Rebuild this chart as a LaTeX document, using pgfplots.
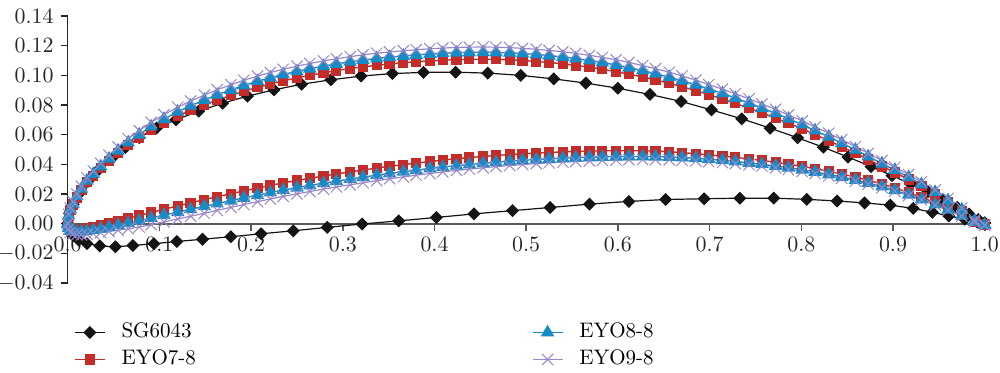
\documentclass[border=0pt]{standalone}
\usepackage{pgfplots}
\usepackage{pgfplotstable}
\pgfplotsset{compat=1.18}
\definecolor{cblk}{HTML}{141414}
\definecolor{cred}{HTML}{C32C28}
\definecolor{cblue}{HTML}{168BC6}
\definecolor{cpur}{HTML}{9B87C8}
\definecolor{caxis}{HTML}{5A5A5A}

\pgfplotstableread[row sep=\\]{
x y \\
1.0 0.0005 \\
0.993 0.0028 \\
0.983 0.0065 \\
0.970 0.0110 \\
0.955 0.0160 \\
0.938 0.0213 \\
0.919 0.0268 \\
0.899 0.0324 \\
0.876 0.0385 \\
0.851 0.0449 \\
0.824 0.0515 \\
0.796 0.0579 \\
0.766 0.0644 \\
0.735 0.0707 \\
0.702 0.0767 \\
0.669 0.0824 \\
0.635 0.0871 \\
0.600 0.0913 \\
0.565 0.0948 \\
0.530 0.0976 \\
0.494 0.1000 \\
0.458 0.1015 \\
0.423 0.1021 \\
0.388 0.1020 \\
0.354 0.1012 \\
0.320 0.0995 \\
0.287 0.0970 \\
0.255 0.0940 \\
0.225 0.0902 \\
0.196 0.0860 \\
0.169 0.0812 \\
0.143 0.0759 \\
0.118 0.0700 \\
0.097 0.0645 \\
0.078 0.0580 \\
0.063 0.0515 \\
0.048 0.0440 \\
0.034 0.0365 \\
0.022 0.0285 \\
0.013 0.0205 \\
0.006 0.0130 \\
0.002 0.0070 \\
0 0 \\
}\sgup

\pgfplotstableread[row sep=\\]{
x y \\
0 0 \\
0.002 -0.0045 \\
0.006 -0.0080 \\
0.012 -0.0110 \\
0.021 -0.0134 \\
0.035 -0.0150 \\
0.052 -0.0156 \\
0.071 -0.0147 \\
0.094 -0.0135 \\
0.119 -0.0120 \\
0.147 -0.0105 \\
0.178 -0.0088 \\
0.211 -0.0068 \\
0.246 -0.0048 \\
0.283 -0.0025 \\
0.321 -0.0002 \\
0.361 0.0019 \\
0.402 0.0042 \\
0.443 0.0066 \\
0.485 0.0088 \\
0.526 0.0109 \\
0.569 0.0132 \\
0.612 0.0150 \\
0.652 0.0163 \\
0.694 0.0168 \\
0.733 0.0172 \\
0.770 0.0172 \\
0.806 0.0164 \\
0.839 0.0153 \\
0.869 0.0140 \\
0.897 0.0125 \\
0.922 0.0103 \\
0.943 0.0077 \\
0.961 0.0052 \\
0.978 0.0030 \\
0.992 0.0011 \\
1.0 0.0005 \\
}\sglo

\pgfplotstableread[row sep=\\]{
x r b p \\
0 0 0 0 \\
0.001 0.0053 0.0055 0.0063 \\
0.003 0.0091 0.0095 0.0105 \\
0.006 0.0129 0.0135 0.0147 \\
0.010 0.0177 0.0185 0.0200 \\
0.015 0.0226 0.0235 0.0252 \\
0.021 0.0280 0.0290 0.0308 \\
0.028 0.0324 0.0335 0.0355 \\
0.036 0.0373 0.0385 0.0407 \\
0.045 0.0424 0.0438 0.0462 \\
0.055 0.0476 0.0492 0.0517 \\
0.066 0.0529 0.0547 0.0573 \\
0.078 0.0580 0.0600 0.0627 \\
0.091 0.0632 0.0655 0.0684 \\
0.105 0.0679 0.0705 0.0735 \\
0.120 0.0726 0.0754 0.0785 \\
0.134 0.0765 0.0795 0.0827 \\
0.149 0.0801 0.0834 0.0867 \\
0.163 0.0834 0.0869 0.0903 \\
0.178 0.0865 0.0902 0.0936 \\
0.192 0.0893 0.0932 0.0967 \\
0.207 0.0919 0.0960 0.0995 \\
0.221 0.0942 0.0984 0.1019 \\
0.235 0.0963 0.1006 0.1041 \\
0.250 0.0983 0.1027 0.1062 \\
0.264 0.1000 0.1045 0.1080 \\
0.279 0.1017 0.1062 0.1097 \\
0.293 0.1032 0.1077 0.1112 \\
0.308 0.1046 0.1091 0.1126 \\
0.322 0.1057 0.1103 0.1138 \\
0.337 0.1068 0.1114 0.1149 \\
0.351 0.1077 0.1123 0.1158 \\
0.366 0.1085 0.1131 0.1166 \\
0.380 0.1092 0.1138 0.1173 \\
0.395 0.1097 0.1144 0.1179 \\
0.409 0.1102 0.1149 0.1184 \\
0.424 0.1106 0.1153 0.1188 \\
0.438 0.1108 0.1155 0.1190 \\
0.453 0.1109 0.1156 0.1191 \\
0.467 0.1108 0.1155 0.1190 \\
0.482 0.1105 0.1152 0.1187 \\
0.496 0.1100 0.1147 0.1182 \\
0.511 0.1094 0.1141 0.1176 \\
0.525 0.1086 0.1133 0.1168 \\
0.540 0.1078 0.1124 0.1159 \\
0.554 0.1067 0.1113 0.1148 \\
0.569 0.1055 0.1100 0.1135 \\
0.583 0.1041 0.1086 0.1121 \\
0.598 0.1025 0.1070 0.1105 \\
0.612 0.1008 0.1052 0.1087 \\
0.627 0.0989 0.1032 0.1066 \\
0.641 0.0969 0.1011 0.1045 \\
0.656 0.0947 0.0988 0.1021 \\
0.670 0.0923 0.0963 0.0996 \\
0.685 0.0897 0.0936 0.0968 \\
0.699 0.0870 0.0908 0.0938 \\
0.714 0.0841 0.0878 0.0907 \\
0.728 0.0811 0.0847 0.0876 \\
0.743 0.0779 0.0814 0.0842 \\
0.757 0.0746 0.0780 0.0807 \\
0.772 0.0712 0.0744 0.0771 \\
0.786 0.0677 0.0707 0.0733 \\
0.801 0.0640 0.0668 0.0693 \\
0.815 0.0601 0.0628 0.0652 \\
0.830 0.0560 0.0586 0.0610 \\
0.844 0.0518 0.0543 0.0566 \\
0.859 0.0475 0.0498 0.0520 \\
0.873 0.0432 0.0453 0.0474 \\
0.888 0.0386 0.0405 0.0425 \\
0.902 0.0345 0.0362 0.0381 \\
0.917 0.0298 0.0313 0.0331 \\
0.931 0.0252 0.0265 0.0282 \\
0.946 0.0200 0.0212 0.0227 \\
0.960 0.0147 0.0157 0.0170 \\
0.975 0.0088 0.0095 0.0105 \\
0.989 0.0016 0.0020 0.0025 \\
1.000 -0.0005 -0.0010 -0.0010 \\
}\eyoup

\pgfplotstableread[row sep=\\]{
x r b p \\
0 0 0 0 \\
0.001 -0.0025 -0.0030 -0.0035 \\
0.003 -0.0040 -0.0047 -0.0058 \\
0.006 -0.0046 -0.0055 -0.0070 \\
0.010 -0.0045 -0.0057 -0.0075 \\
0.015 -0.0040 -0.0055 -0.0075 \\
0.021 -0.0032 -0.0050 -0.0072 \\
0.028 -0.0022 -0.0043 -0.0067 \\
0.036 -0.0010 -0.0034 -0.0061 \\
0.045 0.0005 -0.0023 -0.0053 \\
0.055 0.0020 -0.0010 -0.0044 \\
0.066 0.0036 0.0004 -0.0034 \\
0.078 0.0055 0.0020 -0.0022 \\
0.091 0.0075 0.0038 -0.0007 \\
0.105 0.0097 0.0058 0.0012 \\
0.120 0.0120 0.0078 0.0032 \\
0.134 0.0141 0.0097 0.0050 \\
0.149 0.0162 0.0117 0.0070 \\
0.163 0.0182 0.0136 0.0090 \\
0.178 0.0202 0.0155 0.0110 \\
0.192 0.0221 0.0174 0.0129 \\
0.207 0.0240 0.0192 0.0148 \\
0.221 0.0258 0.0210 0.0167 \\
0.235 0.0275 0.0227 0.0184 \\
0.250 0.0291 0.0243 0.0201 \\
0.264 0.0306 0.0258 0.0217 \\
0.279 0.0321 0.0273 0.0233 \\
0.293 0.0335 0.0287 0.0248 \\
0.308 0.0349 0.0301 0.0262 \\
0.322 0.0362 0.0314 0.0276 \\
0.337 0.0375 0.0327 0.0290 \\
0.351 0.0387 0.0339 0.0303 \\
0.366 0.0398 0.0350 0.0315 \\
0.380 0.0409 0.0361 0.0327 \\
0.395 0.0419 0.0372 0.0338 \\
0.409 0.0429 0.0382 0.0349 \\
0.424 0.0438 0.0391 0.0359 \\
0.438 0.0446 0.0399 0.0368 \\
0.453 0.0453 0.0407 0.0377 \\
0.467 0.0460 0.0414 0.0385 \\
0.482 0.0466 0.0421 0.0392 \\
0.496 0.0471 0.0427 0.0399 \\
0.511 0.0476 0.0432 0.0405 \\
0.525 0.0480 0.0437 0.0410 \\
0.540 0.0484 0.0441 0.0415 \\
0.554 0.0487 0.0445 0.0420 \\
0.569 0.0489 0.0448 0.0423 \\
0.583 0.0491 0.0450 0.0426 \\
0.598 0.0492 0.0452 0.0429 \\
0.612 0.0492 0.0453 0.0431 \\
0.627 0.0491 0.0453 0.0432 \\
0.641 0.0489 0.0452 0.0432 \\
0.656 0.0485 0.0450 0.0430 \\
0.670 0.0479 0.0446 0.0427 \\
0.685 0.0472 0.0441 0.0423 \\
0.699 0.0464 0.0434 0.0418 \\
0.714 0.0456 0.0427 0.0412 \\
0.728 0.0447 0.0419 0.0405 \\
0.743 0.0437 0.0410 0.0397 \\
0.757 0.0426 0.0400 0.0388 \\
0.772 0.0414 0.0389 0.0377 \\
0.786 0.0401 0.0377 0.0365 \\
0.801 0.0387 0.0364 0.0352 \\
0.815 0.0371 0.0349 0.0338 \\
0.830 0.0353 0.0332 0.0322 \\
0.844 0.0335 0.0315 0.0306 \\
0.859 0.0314 0.0295 0.0287 \\
0.873 0.0292 0.0274 0.0267 \\
0.888 0.0267 0.0250 0.0243 \\
0.902 0.0241 0.0225 0.0219 \\
0.917 0.0210 0.0195 0.0190 \\
0.931 0.0178 0.0164 0.0160 \\
0.946 0.0141 0.0129 0.0125 \\
0.960 0.0104 0.0094 0.0091 \\
0.975 0.0060 0.0053 0.0051 \\
0.989 0.0015 0.0012 0.0011 \\
1.000 -0.0005 -0.0008 -0.0010 \\
}\eyolo

\begin{document}
\begin{tikzpicture}
\path[use as bounding box] (-33.85pt,-44.5pt) rectangle (466.15pt,141.5pt);
\begin{axis}[
  at={(0pt,0pt)}, anchor=south west,
  scale only axis, width=458.5pt, height=133.5pt,
  xmin=0, xmax=1, ymin=-0.04, ymax=0.14,
  axis x line=middle, axis y line=left,
  x axis line style={-, draw=caxis, line width=0.9pt},
  y axis line style={-, draw=black!85, line width=0.6pt},
  xtick={0,0.1,0.2,0.3,0.4,0.5,0.6,0.7,0.8,0.9,1.0},
  ytick={-0.04,-0.02,0,0.02,0.04,0.06,0.08,0.10,0.12,0.14},
  tick align=outside, major tick length=3.5pt,
  x tick style={draw=caxis, line width=0.8pt},
  y tick style={draw=black!85, line width=0.6pt},
  hide obscured x ticks=false, hide obscured y ticks=false,
  tick label style={font=\fontsize{10.5}{12}\selectfont, text=black!85},
  xticklabel style={/pgf/number format/.cd, fixed, fixed zerofill, precision=1},
  yticklabel style={/pgf/number format/.cd, fixed, fixed zerofill, precision=2},
  scaled y ticks=false, scaled x ticks=false,
  clip=false,
  legend columns=2, transpose legend,
  legend image code/.code={\draw[mark repeat=2,mark phase=2,#1] plot coordinates {(0pt,0pt) (7.5pt,0pt) (15pt,0pt)};},
  legend style={at={(0.0,-0.125)}, anchor=north west, draw=none, fill=none,
    font=\fontsize{10.5}{12}\selectfont, row sep=1.8pt,
    nodes={inner sep=1pt, text height=7.5pt, text depth=2.2pt},
    /tikz/every odd column/.append style={column sep=7pt},
    /tikz/every even column/.append style={column sep=167pt}},
  legend cell align=left,
]
\addplot[color=cblk, line width=0.6pt, mark=square*, mark size=2pt, mark options={rotate=45, fill=cblk}] table[x=x,y=y]{\sgup};
\addlegendentry{SG6043}
\addplot[forget plot, color=cblk, line width=0.6pt, mark=square*, mark size=2pt, mark options={rotate=45, fill=cblk}] table[x=x,y=y]{\sglo};
\addplot[color=cred, line width=0.7pt, mark=square*, mark size=2.2pt, mark options={fill=cred}] table[x=x,y=r]{\eyoup};
\addlegendentry{EYO7-8}
\addplot[forget plot, color=cred, line width=0.7pt, mark=square*, mark size=2.2pt, mark options={fill=cred}] table[x=x,y=r]{\eyolo};
\addplot[color=cblue, line width=0.7pt, mark=triangle*, mark size=3.2pt, mark options={fill=cblue}] table[x=x,y=b]{\eyoup};
\addlegendentry{EYO8-8}
\addplot[forget plot, color=cblue, line width=0.7pt, mark=triangle*, mark size=3.2pt, mark options={fill=cblue}] table[x=x,y=b]{\eyolo};
\addplot[color=cpur, line width=0.6pt, mark=x, mark size=4pt, mark options={line width=0.5pt}] table[x=x,y=p]{\eyoup};
\addlegendentry{EYO9-8}
\addplot[forget plot, color=cpur, line width=0.6pt, mark=x, mark size=4pt, mark options={line width=0.5pt}] table[x=x,y=p]{\eyolo};
\end{axis}
\end{tikzpicture}
\end{document}
